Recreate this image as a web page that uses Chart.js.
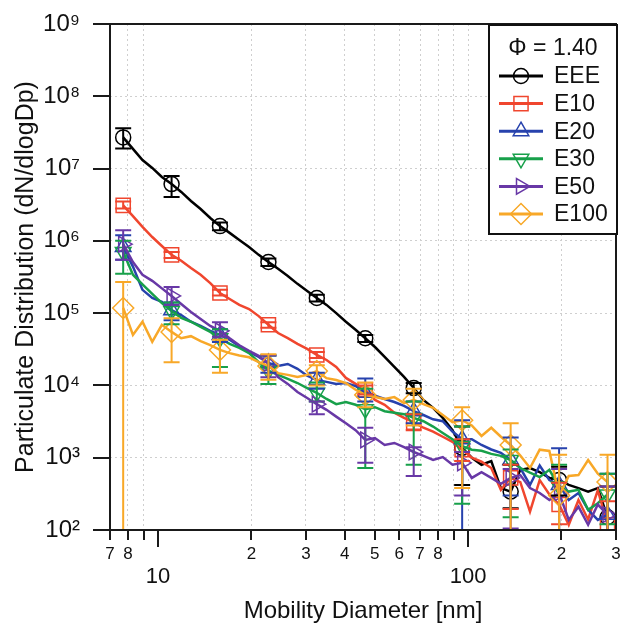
<!DOCTYPE html>
<html lang="en">
<head>
<meta charset="UTF-8">
<title>particle size distribution</title>
<script src="https://cdn.jsdelivr.net/npm/chart.js"></script>
<style>
  html, body { margin: 0; padding: 0; background: #fff; }
  #wrap { width: 628px; height: 625px; }
</style>
</head>
<body>
<div id="wrap"><canvas id="sizeChart" width="628" height="625"></canvas></div>
<script>
// mobility diameter bins [nm]
const diameters = [7.72, 8.30, 8.91, 9.58, 10.29, 11.06, 11.88, 12.77, 13.72, 14.74,
  15.84, 17.02, 18.29, 19.66, 21.12, 22.70, 24.39, 26.21, 28.17, 30.27,
  32.52, 34.95, 37.56, 40.36, 43.37, 46.61, 50.08, 53.82, 57.83, 62.15,
  66.78, 71.77, 77.12, 82.87, 89.06, 95.70, 102.8, 110.5, 118.8, 127.6,
  137.2, 147.4, 158.4, 170.2, 182.9, 196.6, 211.2, 227.0, 243.9, 262.1, 281.7];

const seriesNames = ['EEE', 'E10', 'E20', 'E30', 'E50', 'E100'];

const eee = [2.7e7, 1.87e7, 1.31e7, 1.02e7, 7.65e6, 6.1e6, 4.75e6, 3.56e6, 2.76e6, 2.07e6,
  1.6e6, 1.29e6, 1.03e6, 8.2e5, 6.4e5, 5.1e5, 4.1e5, 3.27e5, 2.54e5, 2.03e5,
  1.62e5, 1.3e5, 1.0e5, 7.6e4, 5.9e4, 4.5e4, 3.4e4, 2.48e4, 1.8e4, 1.31e4,
  9.2e3, 6.3e3, 4.9e3, 3.55e3, 2.4e3, 1.37e3, 1.0e3, 800, 900, 380,
  340, 680, 720, 630, 525, 490, 420, 380, 340, 380, 150];
const e10 = [3.1e6, 2.2e6, 1.56e6, 1.13e6, 8.5e5, 6.4e5, 5.3e5, 4.2e5, 3.4e5, 2.6e5,
  1.9e5, 1.57e5, 1.3e5, 1.14e5, 9.1e4, 6.9e4, 5.3e4, 4.5e4, 3.75e4, 3.2e4,
  2.64e4, 2.25e4, 1.8e4, 1.27e4, 1.05e4, 8.7e3, 6.3e3, 5.4e3, 4.2e3, 3.55e3,
  3.1e3, 2.6e3, 2.3e3, 1.95e3, 1.66e3, 1.29e3, 1.0e3, 880, 720, 360,
  525, 460, 180, 490, 310, 225, 118, 260, 140, 355, 118];
const e20 = [8.2e5, 4.4e5, 2.1e5, 1.62e5, 1.43e5, 1.1e5, 9.4e4, 7.6e4, 6.65e4, 5.7e4,
  5.0e4, 4.3e4, 3.5e4, 2.9e4, 2.48e4, 2.04e4, 1.86e4, 1.98e4, 1.7e4, 1.36e4,
  1.19e4, 1.12e4, 1.05e4, 1.08e4, 9.8e3, 7.9e3, 7.2e3, 6.5e3, 5.9e3, 5.2e3,
  4.4e3, 3.9e3, 3.4e3, 3.2e3, 2.3e3, 1.8e3, 1.8e3, 1.5e3, 1.3e3, 1.17e3,
  930, 720, 420, 780, 490, 420, 260, 325, 190, 138, 163];
const e30 = [7.0e5, 3.4e5, 2.5e5, 1.85e5, 1.38e5, 1.07e5, 8.6e4, 7.6e4, 6.45e4, 5.5e4,
  4.5e4, 3.75e4, 3.3e4, 2.8e4, 2.1e4, 1.6e4, 1.4e4, 1.23e4, 1.08e4, 9.2e3,
  7.9e3, 6.5e3, 5.5e3, 5.9e3, 5.4e3, 4.7e3, 5.0e3, 4.4e3, 4.2e3, 4.0e3,
  3.55e3, 3.2e3, 2.7e3, 2.2e3, 1.8e3, 1.45e3, 1.29e3, 1.25e3, 1.13e3, 1.06e3,
  930, 720, 620, 540, 680, 400, 340, 360, 190, 235, 310];
const e50 = [9.0e5, 5.1e5, 3.4e5, 2.8e5, 2.2e5, 1.73e5, 1.34e5, 1.04e5, 8.3e4, 6.65e4,
  5.7e4, 4.5e4, 3.6e4, 3.0e4, 2.56e4, 2.0e4, 1.3e4, 1.05e4, 8.1e3, 6.7e3,
  5.5e3, 4.6e3, 3.7e3, 3.0e3, 2.4e3, 1.76e3, 1.87e3, 1.5e3, 1.6e3, 1.4e3,
  1.2e3, 1.06e3, 930, 1.02e3, 800, 850, 525, 630, 525, 435,
  525, 575, 380, 325, 260, 325, 138, 210, 118, 225, 163];
const e100 = [1.18e5, 5.0e4, 7.6e4, 4.0e4, 6.9e4, 5.5e4, 4.5e4, 4.8e4, 4.1e4, 3.6e4,
  3.1e4, 2.8e4, 2.6e4, 2.45e4, 2.1e4, 1.86e4, 1.48e4, 1.4e4, 1.31e4, 1.4e4,
  1.58e4, 1.26e4, 1.19e4, 1.08e4, 8.7e3, 7.4e3, 6.9e3, 6.5e3, 6.9e3, 5.7e3,
  6.3e3, 5.5e3, 4.9e3, 3.9e3, 3.1e3, 3.3e3, 2.8e3, 2.0e3, 2.6e3, 1.95e3,
  1.5e3, 1.07e3, 720, 1.29e3, 1.24e3, 300, 560, 575, 930, 600, 460];

// error bars, one value per marker (every 5th bin)
const eeeLow = [1.9e7, 4.05e6, 1.4e6, 4.5e5, 1.45e5, 4.0e4, 7.8e3, 420, 200, 300, 100];
const eeeHigh = [3.6e7, 7.9e6, 1.8e6, 5.7e5, 1.8e5, 5.0e4, 1.08e4, 2.7e3, 800, 750, 400];
const e10Low = [2.8e6, 5.8e5, 1.75e5, 6.3e4, 2.4e4, 7.5e3, 2.4e3, 900, 195, 120, 60];
const e10High = [3.5e6, 7.0e5, 2.1e5, 7.5e4, 2.9e4, 1.0e4, 4.0e3, 1.8e3, 800, 450, 250];
const e20Low = [5.5e5, 8e4, 4e4, 1.5e4, 9e3, 6e3, 3.0e3, 10, 300, 100, 100];
const e20High = [1.2e6, 1.4e5, 6e4, 2.6e4, 1.5e4, 1.25e4, 6.0e3, 3.3e3, 1.9e3, 1.35e3, 600];
const e30Low = [3.5e5, 7e4, 1.8e4, 1.05e4, 6e3, 720, 800, 230, 150, 100, 120];
const e30High = [1.0e6, 1.4e5, 6e4, 2.6e4, 1.1e4, 9e3, 6e3, 2.7e3, 1.3e3, 800, 600];
const e50Low = [5.5e5, 1.3e5, 4.7e4, 1.3e4, 4.0e3, 850, 560, 300, 105, 100, 100];
const e50High = [1.4e6, 2.3e5, 7.5e4, 2.6e4, 6.0e3, 2.6e3, 1.4e3, 1.2e3, 700, 700, 400];
const e100Low = [1, 2.1e4, 1.5e4, 1.2e4, 1.0e4, 5e3, 2.8e3, 380, 50, 50, 100];
const e100High = [2.7e5, 8.5e4, 4.3e4, 2.7e4, 1.9e4, 1.1e4, 9e3, 5e3, 3e3, 1.1e3, 1.1e3];

const xTickValues = [7, 8, 9, 10, 20, 30, 40, 50, 60, 70, 80, 90, 100, 200, 300];
const xTickLabels = ['7', '8', '', ['', '10'], '2', '3', '4', '5', '6', '7', '8', '', ['', '100'], '2', '3'];
const yTickValues = [1e2, 1e3, 1e4, 1e5, 1e6, 1e7, 1e8, 1e9];
const yTickLabels = ['10²', '10³', '10⁴', '10⁵', '10⁶', '10⁷', '10⁸', '10⁹'];

const markerStep = 5;
const fontFamily = "'Liberation Sans', Arial, Helvetica, sans-serif";

const values = [eee, e10, e20, e30, e50, e100];
const lows = [eeeLow, e10Low, e20Low, e30Low, e50Low, e100Low];
const highs = [eeeHigh, e10High, e20High, e30High, e50High, e100High];
const styles = [
  { color: '#000000', point: 'circle', rot: 0, r: 7.5 },
  { color: '#f0462e', point: 'rect', rot: 0, r: 10 },
  { color: '#2742ad', point: 'triangle', rot: 0, r: 9 },
  { color: '#17a04a', point: 'triangle', rot: 180, r: 9 },
  { color: '#6838a6', point: 'triangle', rot: 90, r: 9 },
  { color: '#f8a828', point: 'rectRot', rot: 0, r: 10.5 }
];

Chart.defaults.font.family = fontFamily;
Chart.defaults.color = '#111';

const datasets = seriesNames.map((name, s) => ({
  label: name,
  data: diameters.map((d, i) => ({ x: d, y: values[s][i] })),
  borderColor: styles[s].color,
  borderWidth: 2.5,
  pointStyle: styles[s].point,
  pointRotation: styles[s].rot,
  pointRadius: ctx => (ctx.dataIndex % markerStep === 0 ? styles[s].r : 0),
  pointBorderWidth: 1.5,
  pointBorderColor: styles[s].color,
  pointBackgroundColor: 'rgba(255,255,255,0)',
  tension: 0,
  order: seriesNames.length - s
}));

function markerAt(ctx, st, x, y) {
  ctx.save();
  ctx.strokeStyle = st.color;
  ctx.fillStyle = 'rgba(255,255,255,0)';
  ctx.lineWidth = 1.5;
  if (Chart.helpers && Chart.helpers.drawPoint) {
    Chart.helpers.drawPoint(ctx, { pointStyle: st.point, rotation: st.rot, radius: st.r, borderWidth: 1.5 }, x, y);
  } else {
    ctx.beginPath(); ctx.arc(x, y, st.r, 0, Math.PI * 2); ctx.stroke();
  }
  ctx.restore();
}

const decor = {
  id: 'decor',
  afterDatasetsDraw(chart) {
    const { ctx, chartArea: a, scales: { x, y } } = chart;
    ctx.save();
    ctx.beginPath();
    ctx.rect(a.left, a.top, a.right - a.left, a.bottom - a.top);
    ctx.clip();
    ctx.lineWidth = 2;
    lows.forEach((lo, s) => {
      ctx.strokeStyle = styles[s].color;
      lo.forEach((v, k) => {
        const px = x.getPixelForValue(diameters[k * markerStep]);
        const p1 = y.getPixelForValue(v);
        const p2 = y.getPixelForValue(highs[s][k]);
        ctx.beginPath();
        ctx.moveTo(px, p1); ctx.lineTo(px, p2);
        ctx.moveTo(px - 8, p1); ctx.lineTo(px + 8, p1);
        ctx.moveTo(px - 8, p2); ctx.lineTo(px + 8, p2);
        ctx.stroke();
      });
    });
    ctx.restore();
  },
  afterDraw(chart) {
    const { ctx, chartArea: a, scales: { x, y } } = chart;
    ctx.save();
    // frame + tick marks
    ctx.strokeStyle = '#1a1a1a';
    ctx.lineWidth = 2;
    ctx.strokeRect(a.left, a.top, a.right - a.left, a.bottom - a.top);
    ctx.beginPath();
    xTickValues.forEach(v => {
      const px = Math.round(x.getPixelForValue(v));
      const len = (v === 10 || v === 100) ? 17 : 10;
      ctx.moveTo(px, a.bottom); ctx.lineTo(px, a.bottom + len);
    });
    yTickValues.forEach(v => {
      const py = Math.round(y.getPixelForValue(v));
      ctx.moveTo(a.left - 17, py); ctx.lineTo(a.left, py);
    });
    ctx.stroke();

    // legend box
    const lx = a.right - 127, ly = a.top + 1, lw = 128, lh = 209;
    ctx.fillStyle = '#fff';
    ctx.fillRect(lx, ly, lw, lh);
    ctx.lineWidth = 2;
    ctx.strokeStyle = '#111';
    ctx.strokeRect(lx, ly, lw, lh);
    ctx.fillStyle = '#111';
    ctx.font = '23px ' + fontFamily;
    ctx.textBaseline = 'middle';
    ctx.textAlign = 'center';
    ctx.fillText('Φ = 1.40', lx + lw / 2, ly + 24);
    ctx.textAlign = 'left';
    seriesNames.forEach((name, s) => {
      const ry = ly + 51 + s * 27.6;
      ctx.strokeStyle = styles[s].color;
      ctx.lineWidth = 3;
      ctx.beginPath();
      ctx.moveTo(lx + 10, ry); ctx.lineTo(lx + 54, ry);
      ctx.stroke();
      markerAt(ctx, styles[s], lx + 32, ry);
      ctx.fillStyle = '#111';
      ctx.fillText(name, lx + 65, ry + 1);
    });
    ctx.restore();
  }
};

new Chart(document.getElementById('sizeChart'), {
  type: 'line',
  data: { datasets },
  options: {
    responsive: false,
    animation: false,
    layout: { padding: { left: 0, right: 10, top: 24, bottom: 0 } },
    plugins: { legend: { display: false }, tooltip: { enabled: false } },
    scales: {
      x: {
        type: 'logarithmic',
        min: 7,
        max: 300,
        afterBuildTicks: s => { s.ticks = xTickValues.map(v => ({ value: v })); },
        afterFit: s => { s.height = 95; s.paddingLeft = 0; s.paddingRight = 0; },
        border: { display: false, dash: [2, 3] },
        grid: {
          drawTicks: false,
          lineWidth: 1,
          color: ctx => (ctx.tick && ctx.tick.value === 10 ? 'rgba(0,0,0,0)' : '#cfcfcf')
        },
        ticks: {
          autoSkip: false,
          maxRotation: 0,
          padding: 14,
          color: '#111',
          font: ctx => (ctx.tick && (ctx.tick.value === 10 || ctx.tick.value === 100))
            ? { family: fontFamily, size: 22, lineHeight: 1.0 }
            : { family: fontFamily, size: 17, lineHeight: 1.2 },
          callback: (v, i) => xTickLabels[i]
        },
        title: {
          display: true,
          text: 'Mobility Diameter [nm]',
          color: '#111',
          font: { family: fontFamily, size: 24, lineHeight: 1.0 },
          padding: { top: 0, bottom: 2 }
        }
      },
      y: {
        type: 'logarithmic',
        min: 1e2,
        max: 1e9,
        afterBuildTicks: s => { s.ticks = yTickValues.map(v => ({ value: v })); },
        afterFit: s => { s.width = 110; s.paddingTop = 0; s.paddingBottom = 0; },
        border: { display: false, dash: [2, 3] },
        grid: { drawTicks: false, lineWidth: 1, color: '#cfcfcf' },
        ticks: {
          padding: 30,
          color: '#111',
          font: { family: fontFamily, size: 24 },
          callback: (v, i) => yTickLabels[i]
        },
        title: {
          display: true,
          text: 'Particulate Distribution (dN/dlogDp)',
          color: '#111',
          font: { family: fontFamily, size: 25, lineHeight: 1.0 },
          padding: { top: 14, bottom: 0 }
        }
      }
    }
  },
  plugins: [decor]
});
</script>
</body>
</html>
